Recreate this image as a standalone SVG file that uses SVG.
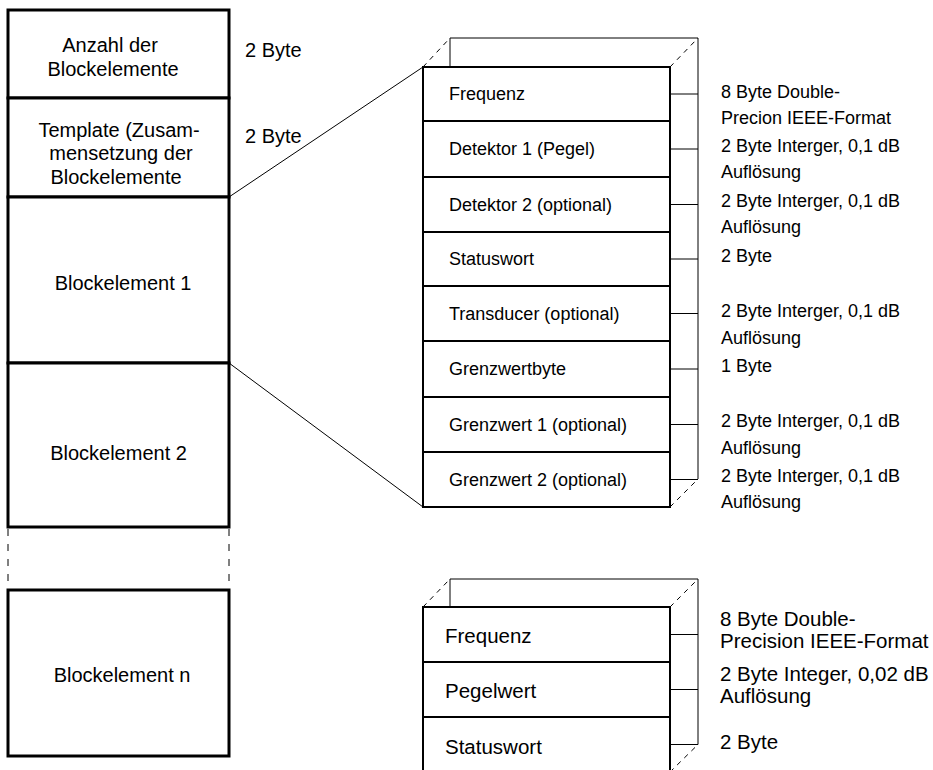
<svg xmlns="http://www.w3.org/2000/svg" width="933" height="770" viewBox="0 0 933 770">
<style>
text{font-family:"Liberation Sans",Arial,sans-serif;fill:#000}
.l{font-size:20px;text-anchor:middle}
.s{font-size:18px}
.b{font-size:20.5px}
.a{font-size:20.5px}
.blk{fill:#fff;stroke:#000;stroke-width:3}
.fr{fill:#fff;stroke:#000;stroke-width:2}
.thin{fill:none;stroke:#000;stroke-width:1}
.sep{stroke:#000;stroke-width:1.8}
.dash{fill:none;stroke:#000;stroke-width:1;stroke-dasharray:7,8}
.dd{fill:none;stroke:#000;stroke-width:1;stroke-dasharray:5,5}
</style>
<rect width="933" height="770" fill="#fff"/>
<g id="anzahl">
<rect class="blk" x="8" y="10" width="221" height="88"/>
<text class="l" x="110" y="52">Anzahl der</text>
<text class="l" x="113" y="76">Blockelemente</text>
<text x="245" y="57" style="font-size:20px">2 Byte</text>
</g>
<g id="template">
<rect class="blk" x="8" y="98" width="221" height="99"/>
<text class="l" x="119" y="137">Template (Zusam-</text>
<text class="l" x="121" y="160">mensetzung der</text>
<text class="l" x="116" y="184">Blockelemente</text>
<text x="245" y="143" style="font-size:20px">2 Byte</text>
</g>
<g id="block1">
<rect class="blk" x="8" y="197" width="221" height="166"/>
<text class="l" x="123" y="290">Blockelement 1</text>
</g>
<g id="block2">
<rect class="blk" x="8" y="363" width="221" height="164"/>
<text class="l" x="118.5" y="460">Blockelement 2</text>
</g>
<g id="gap">
<line class="dash" x1="8" y1="529" x2="8" y2="590"/>
<line class="dash" x1="229" y1="529" x2="229" y2="590"/>
</g>
<g id="blockn">
<rect class="blk" x="8" y="590" width="221" height="166"/>
<text class="l" x="122" y="682">Blockelement n</text>
</g>
<g id="connectors">
<line class="thin" x1="229" y1="197" x2="423" y2="67"/>
<line class="thin" x1="229" y1="363" x2="423" y2="507"/>
</g>
<g id="stack1">
<polyline class="thin" points="450,67 450,38 698,38 698,479"/>
<line class="dd" x1="423" y1="67" x2="450" y2="38"/>
<line class="dd" x1="670" y1="67" x2="698" y2="38"/>
<line class="dd" x1="670" y1="507" x2="698" y2="479"/>
<line class="thin" x1="670" y1="94" x2="698" y2="94"/>
<line class="thin" x1="670" y1="149" x2="698" y2="149"/>
<line class="thin" x1="670" y1="204.5" x2="698" y2="204.5"/>
<line class="thin" x1="670" y1="259" x2="698" y2="259"/>
<line class="thin" x1="670" y1="313.5" x2="698" y2="313.5"/>
<line class="thin" x1="670" y1="369" x2="698" y2="369"/>
<line class="thin" x1="670" y1="424.5" x2="698" y2="424.5"/>
<line class="thin" x1="670" y1="479.5" x2="698" y2="479.5"/>
<rect class="fr" x="423" y="67" width="247" height="440"/>
<line class="sep" x1="423" y1="121" x2="670" y2="121"/>
<line class="sep" x1="423" y1="177" x2="670" y2="177"/>
<line class="sep" x1="423" y1="232" x2="670" y2="232"/>
<line class="sep" x1="423" y1="286" x2="670" y2="286"/>
<line class="sep" x1="423" y1="341" x2="670" y2="341"/>
<line class="sep" x1="423" y1="397" x2="670" y2="397"/>
<line class="sep" x1="423" y1="452" x2="670" y2="452"/>
<text class="s" x="449" y="100">Frequenz</text>
<text class="s" x="449" y="155">Detektor 1 (Pegel)</text>
<text class="s" x="449" y="210.5">Detektor 2 (optional)</text>
<text class="s" x="449" y="265">Statuswort</text>
<text class="s" x="449" y="319.5">Transducer (optional)</text>
<text class="s" x="449" y="375">Grenzwertbyte</text>
<text class="s" x="449" y="430.5">Grenzwert 1 (optional)</text>
<text class="s" x="449" y="485.5">Grenzwert 2 (optional)</text>
</g>
<g id="annot1">
<text class="s" x="721" y="98">8 Byte Double-</text>
<text class="s" x="721" y="124">Precion IEEE-Format</text>
<text class="s" x="721" y="152">2 Byte Interger, 0,1 dB</text>
<text class="s" x="721" y="178">Auflösung</text>
<text class="s" x="721" y="207">2 Byte Interger, 0,1 dB</text>
<text class="s" x="721" y="233">Auflösung</text>
<text class="s" x="721" y="262">2 Byte</text>
<text class="s" x="721" y="317">2 Byte Interger, 0,1 dB</text>
<text class="s" x="721" y="344">Auflösung</text>
<text class="s" x="721" y="372">1 Byte</text>
<text class="s" x="721" y="427">2 Byte Interger, 0,1 dB</text>
<text class="s" x="721" y="454">Auflösung</text>
<text class="s" x="721" y="482">2 Byte Interger, 0,1 dB</text>
<text class="s" x="721" y="508">Auflösung</text>
</g>
<g id="stack2">
<polyline class="thin" points="450,607 450,579 698,579 698,744.5"/>
<line class="dd" x1="423" y1="607" x2="450" y2="579"/>
<line class="dd" x1="670" y1="607" x2="698" y2="579"/>
<line class="dd" x1="670" y1="772" x2="698" y2="744.5"/>
<line class="thin" x1="670" y1="634.5" x2="698" y2="634.5"/>
<line class="thin" x1="670" y1="689.5" x2="698" y2="689.5"/>
<line class="thin" x1="670" y1="744.5" x2="698" y2="744.5"/>
<rect class="fr" x="423" y="607" width="247" height="175"/>
<line class="sep" x1="423" y1="662" x2="670" y2="662"/>
<line class="sep" x1="423" y1="717" x2="670" y2="717"/>
<text class="b" x="445" y="643">Frequenz</text>
<text class="b" x="445" y="698">Pegelwert</text>
<text class="b" x="445" y="754">Statuswort</text>
</g>
<g id="annot2">
<text class="a" x="720" y="626">8 Byte Double-</text>
<text class="a" x="720" y="648">Precision IEEE-Format</text>
<text class="a" x="720" y="681">2 Byte Integer, 0,02 dB</text>
<text class="a" x="720" y="703">Auflösung</text>
<text class="a" x="720" y="749">2 Byte</text>
</g>
</svg>
